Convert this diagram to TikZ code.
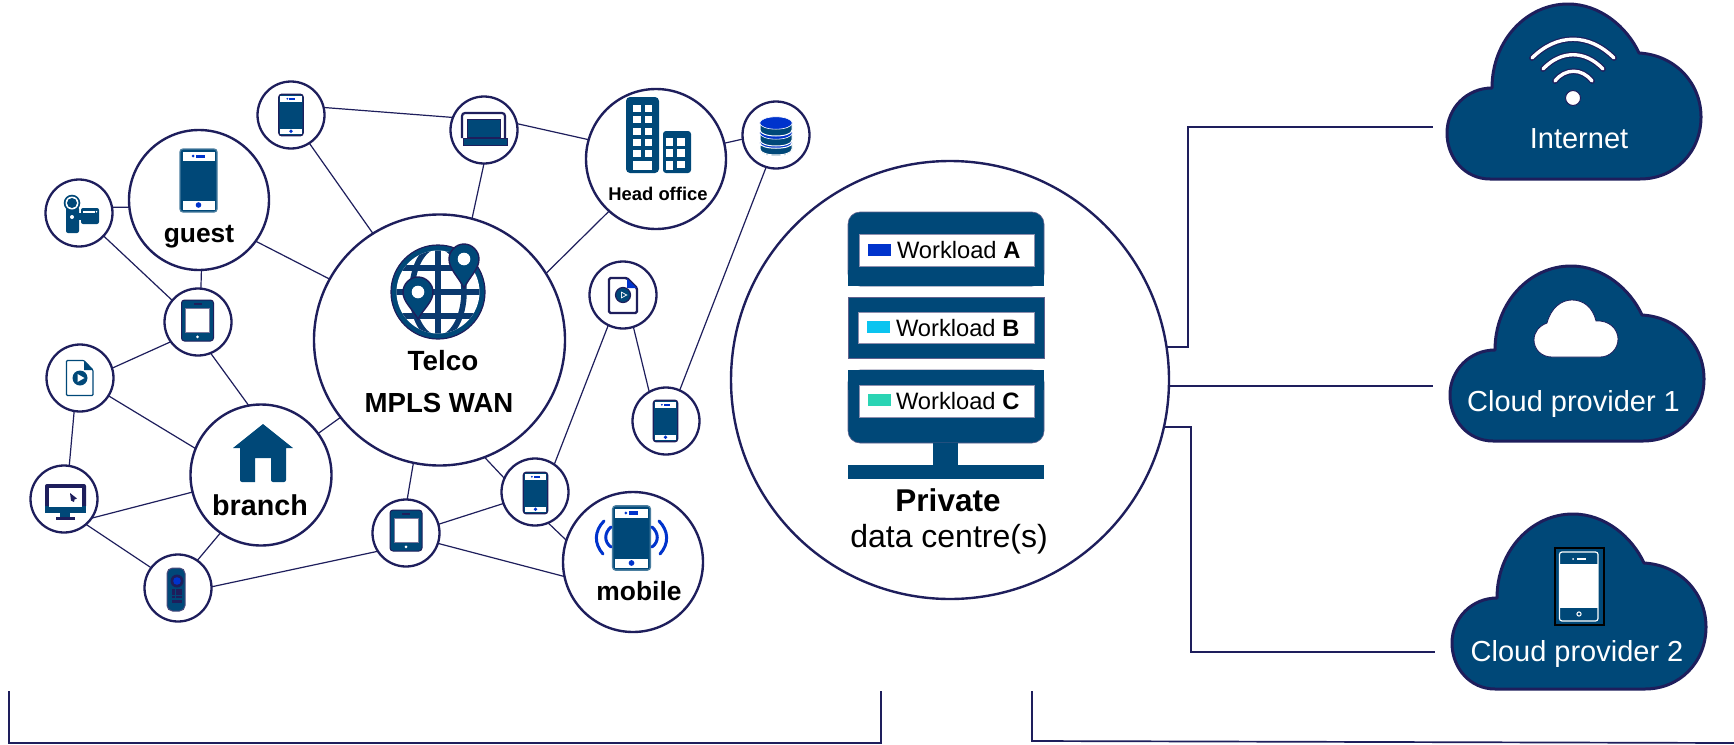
\documentclass[tikz,border=0pt]{standalone}
\usepackage{fontspec}
\setmainfont{Liberation Sans}
\definecolor{navy}{RGB}{0,72,120}
\definecolor{indi}{RGB}{30,30,92}
\definecolor{bbl}{RGB}{0,51,204}
\definecolor{cyn}{RGB}{10,196,240}
\definecolor{tel}{RGB}{42,212,180}
\newcommand{\fs}[1]{\fontsize{#1}{#1}\selectfont}
\tikzset{
 netbig/.style={circle,draw=indi,fill=white,line width=2.4pt,minimum size=140pt,inner sep=0pt,outer sep=0pt},
 netsmall/.style={circle,draw=indi,fill=white,line width=2.3pt,minimum size=67pt,inner sep=0pt,outer sep=0pt},
 link/.style={draw=indi,line width=1.2pt},
 wire/.style={draw=indi,line width=2.2pt},
 lab/.style={inner sep=0pt,outer sep=0pt,anchor=base,text=black},
 wlab/.style={inner sep=0pt,outer sep=0pt,anchor=base,text=white,font=\fs{29}},
 cloudline/.style={fill=navy,draw=indi,line width=3pt,line join=round},
}
\newcommand{\phoneshape}[4]{%
 \begin{scope}[shift={(#1,#2)},scale=#3]
 \fill[navy,draw=#4,line width=1.3pt,rounded corners=3pt](-18.5,-31.5) rectangle (18.5,31.5);
 \fill[white](-16,-28.5) rectangle (16,-19.5);
 \fill[white](-16,20.5) rectangle (16,29.5);
 \fill[bbl](-2.5,-26) rectangle (6.5,-23);
 \fill[bbl](-5.5,-24.5) circle (1.5);
 \fill[bbl](0,24.5) circle (2.8);
 \end{scope}}
\newcommand{\tabletshape}[2]{%
 \begin{scope}[shift={(#1,#2)}]
 \fill[navy,draw=indi,line width=1pt,rounded corners=3pt](-16,-20.5) rectangle (16,20.5);
 \fill[white,draw=indi!60,line width=.5pt](-11.8,-12.5) rectangle (11.8,12);
 \fill[indi](-4,-17.5) rectangle (4,-15.5);
 \fill[white](0,16.3) circle (1.5);
 \end{scope}}
\newcommand{\cloudshape}[2]{%
 \begin{scope}[shift={(#1,#2)}]
 \draw[cloudline](1492,88) .. controls (1492,40) and (1527,4) .. (1568,4)
  .. controls (1600,4) and (1627,27) .. (1639,53)
  .. controls (1675,55) and (1701,83) .. (1701,117)
  .. controls (1701,152) and (1675,179) .. (1640,179)
  -- (1490,179)
  .. controls (1465,179) and (1447,158) .. (1447,133)
  .. controls (1447,108) and (1467,88) .. (1492,88) -- cycle;
 \end{scope}}
\newcommand{\pinshape}[4]{%
 \begin{scope}[shift={(#1,#2)}]
 \fill[navy,draw=indi,line width=1.4pt](0,#3) .. controls (-6,{#3*.6}) and (-15,10) .. (-15,0)
  .. controls (-15,-8) and (-8,-15) .. (0,-15) .. controls (8,-15) and (15,-8) .. (15,0)
  .. controls (15,10) and (6,{#3*.6}) .. (0,#3) -- cycle;
 \fill[white](0,0) circle (#4);
 \end{scope}}
\begin{document}
\begin{tikzpicture}[x=1pt,y=-1pt]
\useasboundingbox (0,0) rectangle (1734,744);
\fill[white](0,0) rectangle (1734,744);
% network nodes
\node[netbig] (guest) at (199,200) {};
\node[netsmall] (cam) at (79,213) {};
\node[netsmall] (pa) at (291,115) {};
\node[netsmall] (lap) at (484,130) {};
\node[netbig] (head) at (656,159) {};
\node[netsmall] (db) at (776,135) {};
\node[netbig,minimum size=251pt] (telco) at (439.5,340) {};
\node[netsmall] (vid) at (623,295) {};
\node[netsmall] (pc) at (666,421) {};
\node[netsmall] (taba) at (198,322) {};
\node[netsmall] (file) at (80,378) {};
\node[netsmall] (mon) at (64,499) {};
\node[netbig,minimum size=141pt] (branch) at (261,475) {};
\node[netsmall] (rem) at (178,588) {};
\node[netsmall] (tabb) at (406,533) {};
\node[netsmall] (pb) at (535,492) {};
\node[netbig] (mobile) at (633,562) {};
\node[netbig,minimum size=438pt] (dc) at (950,380) {};
% links
\draw[link] (cam.10) -- (guest.186);
\draw[link] (cam.-43) -- (taba.140);
\draw[link] (guest.-88) -- (taba.85);
\draw[link] (guest.-36.5) -- (telco.151.7);
\draw[link] (pa.-57) -- (telco.122.6);
\draw[link] (pa.13) -- (lap.158);
\draw[link] (lap.-90) -- (telco.75);
\draw[link] (lap.11.6) -- (head.164);
\draw[link] (head.13) -- (db.187);
\draw[link] (head.-132) -- (telco.32);
\draw[link] (db.-107) -- (pc.66);
\draw[link] (vid.-116) -- (pb.55);
\draw[link] (vid.-72) -- (pc.120);
\draw[link] (taba.-144.5) -- (file.17);
\draw[link] (taba.-68) -- (branch.100.5);
\draw[link] (file.-100) -- (mon.81);
\draw[link] (file.-32) -- (branch.158);
\draw[link] (mon.-35) -- (branch.194.6);
\draw[link] (mon.-49.6) -- (rem.143.5);
\draw[link] (branch.-125) -- (rem.55);
\draw[link] (telco.218.4) -- (branch.36);
\draw[link] (rem.2) -- (tabb.213);
\draw[link] (tabb.88) -- (telco.258.4);
\draw[link] (tabb.15) -- (pb.200.5);
\draw[link] (tabb.-18) -- (mobile.192);
\draw[link] (pb.156) -- (telco.-69);
\draw[link] (pb.-67) -- (mobile.162.5);
% phones
\phoneshape{198.5}{180.5}{1}{navy!70!white}
\phoneshape{291}{115}{.66}{indi}
\phoneshape{535.5}{493}{.66}{indi}
\phoneshape{665.5}{421}{.66}{indi}
\phoneshape{631.5}{538}{1.02}{navy!70!white}
\tabletshape{197.5}{320.5}
\tabletshape{406}{530.5}
% camera
\fill[navy,rounded corners=2pt](66,207) rectangle (79,233);
\fill[navy](72,203) circle (8.3);
\fill[white](72,203) circle (6.5);
\fill[navy](72,203) circle (5);
\fill[white](72,217) circle (2);
\fill[navy](79,213) rectangle (81,220);
\fill[navy,rounded corners=2pt](81,208) rectangle (99,224);
\fill[white](83,211) rectangle (95,212.5);
\fill[white](96.5,211.7) circle (.8);
% laptop
\draw[indi,line width=2.2pt,fill=white,rounded corners=3pt](462,138) -- (462,113) -- (505,113) -- (505,138);
\fill[navy,draw=indi,line width=.6pt](467,119) -- (500,119) -- (500,137) -- (467,137) -- cycle;
\fill[navy,draw=indi,line width=1pt](463,138) rectangle (507,145.5);
% head office
\fill[navy,rounded corners=4pt](626,97) rectangle (659,173);
\fill[navy,rounded corners=3pt](663,131) rectangle (691,173);
\foreach \yy in {105,116,127.5,138.5,149.5}{
 \fill[white](633,\yy) rectangle (641,{\yy+7.3});
 \fill[white](645,\yy) rectangle (652,{\yy+7.3});}
\fill[white](633,161) rectangle (652,170);
\foreach \yy in {138,149}{
 \fill[white](665.5,\yy) rectangle (673,{\yy+7.5});
 \fill[white](677,\yy) rectangle (684.5,{\yy+7.5});}
\fill[white](665.5,161) rectangle (673,170);
\fill[white](677,161) rectangle (684.5,168);
% database
\foreach \yy in {143,133,123}{
 \fill[navy,draw=white,line width=1pt](760,\yy) -- (760,{\yy+7}) .. controls (760,{\yy+15}) and (792,{\yy+15}) .. (792,{\yy+7}) -- (792,\yy) -- cycle;
 \fill[bbl,draw=white,line width=.6pt](776,\yy) ellipse (16.3 and 6.2);}
\fill[navy,draw=white,line width=1pt](760,143) -- (760,149) .. controls (760,157) and (792,157) .. (792,149) -- (792,143) .. controls (792,150) and (760,150) .. (760,143) -- cycle;
% globe
\fill[navy,draw=indi,line width=1.2pt](438,292) circle (47);
\begin{scope}
 \clip (438,292) circle (41.5);
 \fill[white](390,245) rectangle (486,339);
 \draw[navy!65!indi,line width=5.6pt](438,245) -- (438,339);
 \draw[navy!65!indi,line width=5.6pt](390,268) -- (486,268);
 \draw[navy!65!indi,line width=5.6pt](390,292) -- (486,292);
 \draw[navy!65!indi,line width=5.6pt](390,316) -- (486,316);
 \draw[navy!65!indi,line width=5.6pt](438,292) ellipse (26 and 46);
\end{scope}
\pinshape{464}{259}{29}{6.3}
\pinshape{418}{292}{27}{6.3}
% video files
\fill[white,draw=indi,line width=2.4pt,rounded corners=1.5pt](609,278) -- (627,278) -- (637,288) -- (637,313) -- (609,313) -- cycle;
\fill[bbl](627,278.5) -- (636.5,288) -- (627,288) -- cycle;
\fill[navy,draw=indi,line width=1.2pt](623,295) circle (7.5);
\fill[white](621,291.5) -- (627.5,295) -- (621,298.5) -- cycle;
\fill[navy](621.8,293) -- (625.7,295) -- (621.8,297) -- cycle;
\draw[navy,line width=1.1pt,fill=white,rounded corners=1pt](66.5,360.5) -- (84,360.5) -- (93,370) -- (93,395.5) -- (66.5,395.5) -- cycle;
\fill[navy](84,360.5) -- (93,370) -- (84,370) -- cycle;
\fill[navy](80,378) circle (7.5);
\fill[white](77.5,374) -- (84.5,378) -- (77.5,382) -- cycle;
% monitor
\fill[indi,rounded corners=2pt](45,484) rectangle (86,508);
\fill[navy](45,506) rectangle (86,513);
\fill[white](48.5,487.5) rectangle (82,507);
\fill[navy](60,513) rectangle (70,517);
\fill[indi](56,517) rectangle (75,519.5);
\fill[indi](70,493) -- (77,498.5) -- (74.5,499.5) -- (74,502) -- (71,500.5) -- cycle;
% house
\fill[navy](263,424) -- (293,448) -- (286,448) -- (286,478) [rounded corners=2pt] -- (286,482) -- (271,482) [sharp corners] -- (271,458) -- (255,458) -- (255,482) [rounded corners=2pt] -- (240,482) -- (240,478) [sharp corners] -- (240,448) -- (233,448) -- cycle;
% remote
\fill[navy,draw=indi!80,line width=1pt,rounded corners=5.5pt](167,568) rectangle (185,611);
\fill[indi](177,581) circle (6.5);
\fill[bbl](177,581) circle (3.8);
\foreach \xx in {172,175.7,179.4}{\foreach \yy in {589,592.3,595.6}{\fill[indi](\xx,\yy) rectangle ({\xx+2.9},{\yy+2.7});}}
\fill[indi](172,600) rectangle (182.4,603);
% mobile waves
\draw[bbl,line width=3pt,line cap=round](604,521) .. controls (594,531) and (594,544) .. (603,554);
\draw[bbl,line width=3pt,line cap=round](611,527) .. controls (604,533) and (604,542) .. (611,547);
\draw[bbl,line width=3pt,line cap=round](659,521) .. controls (669,531) and (669,544) .. (660,554);
\draw[bbl,line width=3pt,line cap=round](652,527) .. controls (659,533) and (659,542) .. (652,547);
% server
\fill[navy,draw=indi!70,line width=.6pt,rounded corners=12pt](848,286) -- (848,212) -- (1044,212) -- (1044,286) -- cycle;
\fill[navy](848,270) rectangle (1044,286);
\fill[navy,draw=indi!70,line width=.6pt](848,297) rectangle (1044,358);
\fill[navy,draw=indi!70,line width=.6pt,rounded corners=12pt](848,370) -- (848,443) -- (1044,443) -- (1044,370) -- cycle;
\fill[navy](848,370) rectangle (1044,390);
\fill[navy](933,443) rectangle (958,465);
\fill[navy](848,465) rectangle (1044,479);
\fill[white,draw=indi!50,line width=.5pt](859,234) rectangle (1034,266);
\fill[white,draw=indi!50,line width=.5pt](858,312) rectangle (1034,343);
\fill[white,draw=indi!50,line width=.5pt](859,385) rectangle (1034,417);
\fill[bbl](868,244) rectangle (891,256);
\fill[cyn](867,321) rectangle (890,333);
\fill[tel](868,394) rectangle (891,406);
% clouds
\cloudshape{0}{0}
\cloudshape{3}{262}
\cloudshape{5}{510}
% wifi
\foreach \ww/\cc in {5.8/indi,3.4/white}{
 \draw[\cc,line width=\ww pt,line cap=round](1532,58) .. controls (1557,33) and (1589,33) .. (1614,58);
 \draw[\cc,line width=\ww pt,line cap=round](1543,69) .. controls (1561,50) and (1585,50) .. (1603,69);
 \draw[\cc,line width=\ww pt,line cap=round](1555,81) .. controls (1565,68) and (1582,68) .. (1592,81);}
\fill[white,draw=indi,line width=1pt](1573,98) circle (7.5);
% small cloud
\fill[white,draw=indi,line width=.8pt](1552,357) .. controls (1541,357) and (1534,349) .. (1534,340)
 .. controls (1534,332) and (1539,326) .. (1547,323)
 .. controls (1551,308) and (1561,300) .. (1572,300)
 .. controls (1584,300) and (1593,308) .. (1596,321)
 .. controls (1609,320) and (1618,329) .. (1618,339)
 .. controls (1618,349) and (1610,357) .. (1600,357) -- cycle;
% cloud phone
\draw[black,line width=1.6pt](1555,548) rectangle (1604,625);
\draw[white,line width=1.2pt,rounded corners=2.5pt](1559.5,552) rectangle (1598,621);
\fill[white](1559.5,564) rectangle (1598,608);
\fill[white](1573,559) circle (1);
\fill[white](1577,558) rectangle (1586,560);
\draw[white,line width=1pt](1579,614) circle (2.1);
% connectors
\coordinate (ina) at (1433,127);
\coordinate (inb) at (1433,386);
\coordinate (inc) at (1435,652);
\coordinate (ka) at (1188,347);
\coordinate (kc) at (1191,427);
\draw[wire] ([shift={(216.5,-33)}]dc.center) -- (ka) |- (ina);
\draw[wire] ([shift={(219,6)}]dc.center) -- (inb);
\draw[wire] ([shift={(214,47)}]dc.center) -- (kc) |- (inc);
% brackets
\draw[wire,line width=1.7pt](9,691) -- (9,743) -- (881,743) -- (881,691);
\draw[wire,line width=1.7pt](1032,691) -- (1032,741) -- (1734,743);
% texts
\node[lab,font=\fs{26.4}\bfseries] (tguest) at (199,242) {guest};
\node[lab,font=\fs{18.4}\bfseries] (thead) at (658,200) {Head office};
\node[lab,font=\fs{27.8}\bfseries] (ttelco) at (443,370) {Telco};
\node[lab,font=\fs{27.6}\bfseries] (tmpls) at (439,412) {MPLS WAN};
\node[lab,font=\fs{28.7}\bfseries] (tbranch) at (260,515) {branch};
\node[lab,font=\fs{26.4}\bfseries] (tmobile) at (639,600) {mobile};
\node[lab,font=\fs{31.5}\bfseries] (tpriv) at (948,511) {Private};
\node[lab,font=\fs{32}] (tdata) at (949,547) {data centre(s)};
\node[lab,anchor=base west,font=\fs{23.7}] (wa) at (897,258) {Workload {\bfseries A}};
\node[lab,anchor=base west,font=\fs{23.7}] (wb) at (896,336) {Workload {\bfseries B}};
\node[lab,anchor=base west,font=\fs{23.7}] (wc) at (896,409) {Workload {\bfseries C}};
\node[wlab] (tint) at (1579,148) {Internet};
\node[wlab] (tca) at (1573.5,411) {Cloud provider 1};
\node[wlab] (tcb) at (1577,661) {Cloud provider 2};
\end{tikzpicture}
\end{document}
